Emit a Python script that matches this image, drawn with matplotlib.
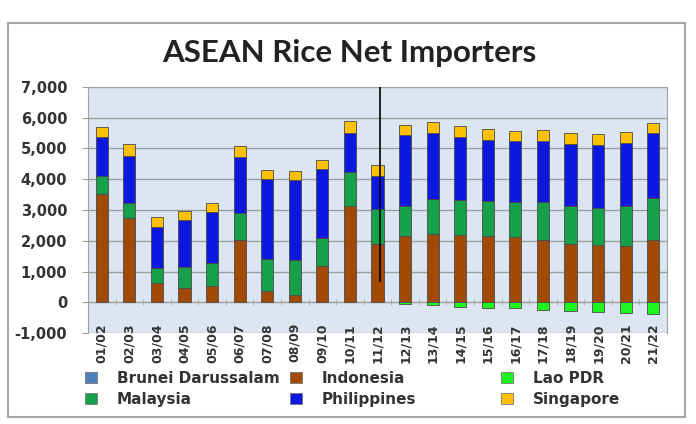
import numpy as np
import matplotlib
matplotlib.use('Agg')
import matplotlib.pyplot as plt
from matplotlib.patches import Patch, Rectangle
from matplotlib.ticker import FuncFormatter, MultipleLocator

plt.rcParams['font.family'] = ['DejaVu Sans']

years = ['01/02', '02/03', '03/04', '04/05', '05/06', '06/07', '07/08', '08/09', '09/10', '10/11',
         '11/12', '12/13', '13/14', '14/15', '15/16', '16/17', '17/18', '18/19', '19/20', '20/21', '21/22']

# thousand tonnes
brunei = [0, 0, 0, 0, 0, 0, 0, 0, 0, 0, 0, 0, 0, 0, 0, 0, 0, 0, 0, 0, 0]
indonesia = [3510, 2750, 630, 450, 520, 2010, 360, 250, 1170, 3120,
             1900, 2170, 2230, 2190, 2140, 2130, 2040, 1900, 1860, 1830, 2010]
lao = [0, 0, 0, 0, 0, 0, 0, 0, 0, 0,
       0, -70, -90, -140, -180, -200, -260, -280, -310, -350, -380]
malaysia = [600, 490, 490, 700, 760, 890, 1050, 1110, 930, 1100,
            1120, 960, 1120, 1140, 1150, 1140, 1230, 1240, 1220, 1290, 1370]
philippines = [1250, 1520, 1340, 1520, 1640, 1830, 2590, 2610, 2230, 1300,
               1070, 2300, 2170, 2050, 2000, 1960, 1980, 2020, 2030, 2070, 2110]
singapore = [350, 380, 315, 300, 315, 340, 300, 300, 300, 360,
             380, 340, 350, 340, 330, 350, 350, 350, 360, 360, 350]

colors = {
    'Brunei Darussalam': '#4F81BD',
    'Indonesia': '#A04A06',
    'Lao PDR': '#1EF51E',
    'Malaysia': '#16A04A',
    'Philippines': '#0C18E0',
    'Singapore': '#FFC000',
}

fig = plt.figure(figsize=(6.96, 4.24), dpi=100)
# outer chart frame
fig.patches.append(Rectangle((8 / 696, 1 - 417 / 424), 677 / 696, 394 / 424,
                             transform=fig.transFigure, fill=False,
                             edgecolor='#A6A6A6', linewidth=1.5))

ax = fig.add_axes([88 / 696, 1 - 333 / 424, 579 / 696, 246 / 424])
ax.set_facecolor('#DCE6F2')

x = np.arange(len(years))
w = 0.44
edge = dict(edgecolor='#4A4A4A', linewidth=0.6)

bottom = np.zeros(len(years))
for name, vals in [('Brunei Darussalam', brunei), ('Indonesia', indonesia),
                   ('Malaysia', malaysia), ('Philippines', philippines), ('Singapore', singapore)]:
    vals = np.array(vals, dtype=float)
    ax.bar(x, vals, w, bottom=bottom, color=colors[name],
           edgecolor='#4A4A4A', linewidth=0.6 if name != 'Brunei Darussalam' else 0, zorder=3)
    bottom += vals
lao_arr = np.array(lao, dtype=float)
ax.bar(x[lao_arr < 0], lao_arr[lao_arr < 0], w, color=colors['Lao PDR'], zorder=3, **edge)

# stray vertical marker line in the original chart
marker_x = 10.1
ax.vlines(marker_x, 650, 7000, color='black', linewidth=1.2, zorder=4)

ax.set_xlim(-0.5, len(years) - 0.5)
ax.set_ylim(-1000, 7000)
ax.yaxis.set_major_locator(MultipleLocator(1000))
ax.yaxis.set_major_formatter(FuncFormatter(lambda v, p: f'{int(v):,}'))
ax.grid(axis='y', color='#9C9C9C', linewidth=1, zorder=1)
ax.set_axisbelow(True)

for s in ['top', 'right', 'left']:
    ax.spines[s].set_color('#A0A0A0')
ax.spines['bottom'].set_position(('data', 0))
ax.spines['bottom'].set_color('#A0A0A0')

ax.set_xticks(x)
ax.set_xticklabels(years, rotation=90, fontsize=9, fontweight='bold', color='#333333')
ax.tick_params(axis='x', length=0, pad=15)
ax.set_xticks(np.arange(-0.5, len(years), 1), minor=True)
ax.tick_params(axis='x', which='minor', length=5, direction='inout', color='#A0A0A0')
ax.tick_params(axis='y', length=4, color='#A0A0A0', labelsize=10.5, pad=11)
for lbl in ax.get_yticklabels():
    lbl.set_fontweight('bold')
    lbl.set_color('#333333')

fig.text(349 / 696, 1 - 53 / 424, 'ASEAN Rice Net Importers', ha='center', va='center',
         fontsize=22.5, fontweight='bold', color='#222222', family=['Lato', 'DejaVu Sans'])

# legend laid out in three fixed columns, like the original
legend_cols = [(['Brunei Darussalam', 'Malaysia'], 85),
               (['Indonesia', 'Philippines'], 290),
               (['Lao PDR', 'Singapore'], 501)]
for names, left in legend_cols:
    handles = [Patch(facecolor=colors[n], edgecolor='#777777', linewidth=0.6, label=n) for n in names]
    leg = fig.legend(handles=handles, loc='upper left',
                     bbox_to_anchor=(left / 696, 1 - 371 / 424), frameon=False,
                     prop={'size': 11, 'weight': 'bold'}, handlelength=0.8, handleheight=0.7,
                     handletextpad=1.3, labelspacing=0.4, borderpad=0, borderaxespad=0)
    for t in leg.get_texts():
        t.set_color('#333333')

fig.savefig('out.png', dpi=100)
